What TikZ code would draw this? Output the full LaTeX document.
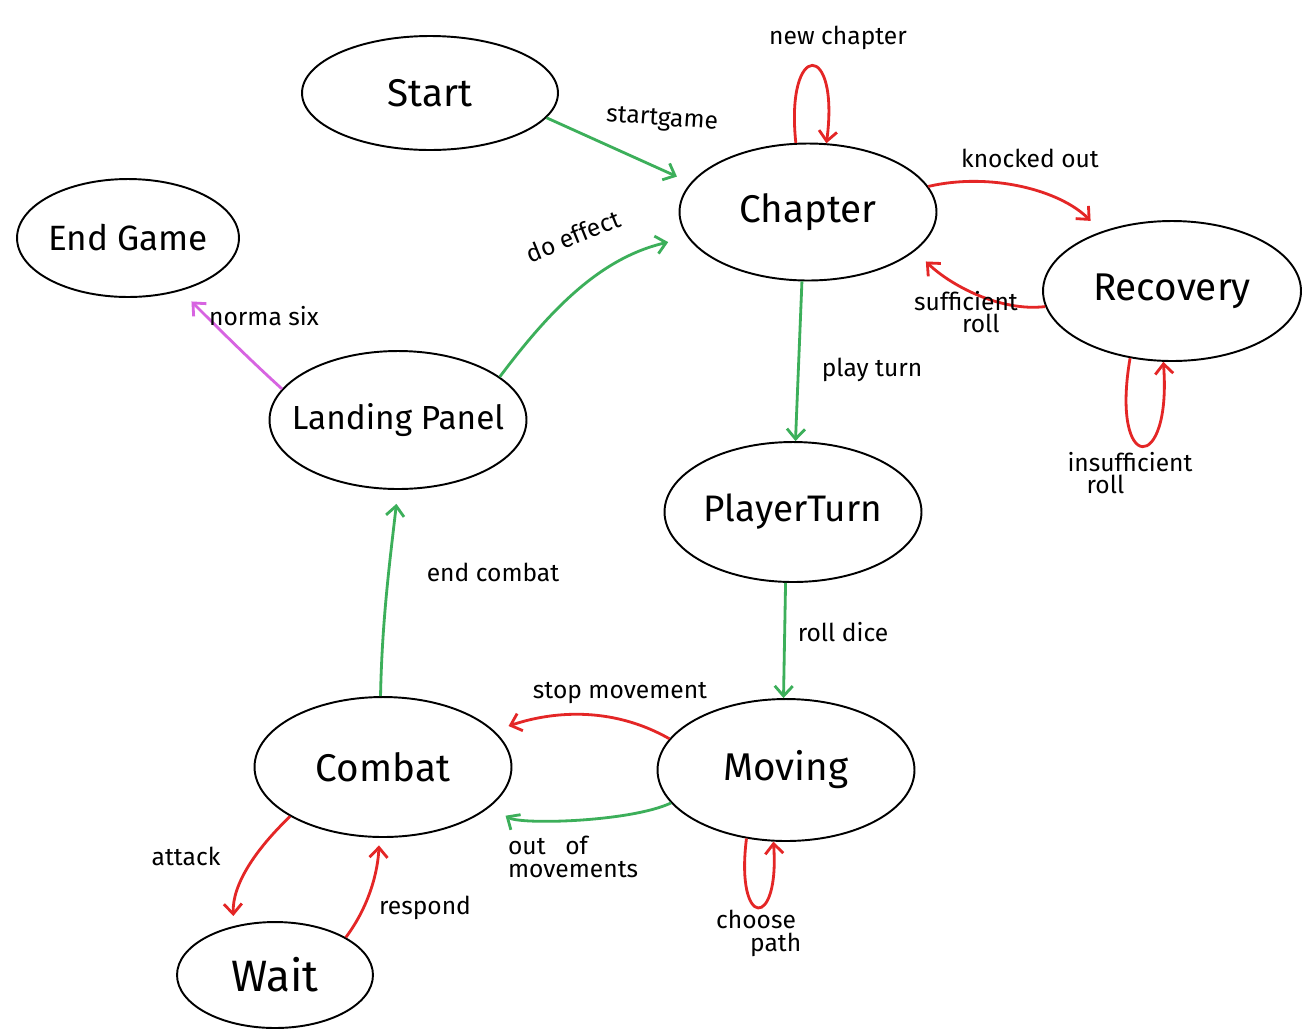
\documentclass[tikz,border=0pt]{standalone}
\usepackage{fontspec}
\setmainfont{Fira Sans}
\usetikzlibrary{shapes.geometric,arrows.meta}
\definecolor{egreen}{RGB}{60,175,90}
\definecolor{ered}{RGB}{228,38,38}
\definecolor{emag}{RGB}{215,100,225}
\begin{document}
\begin{tikzpicture}[x=0.02cm,y=-0.02cm,
  state/.style={ellipse,draw=black,line width=1.1pt,inner xsep=-1cm,inner ysep=-0.3cm,font=\fontsize{22}{26}\selectfont},
  tr/.style={line width=1.6pt,-{Straight Barb[length=2mm,width=3.6mm]}},
  gr/.style={tr,draw=egreen},
  rd/.style={tr,draw=ered},
  mg/.style={tr,draw=emag},
  lbl/.style={font=\fontsize{14}{15}\selectfont,inner sep=1pt,align=center}]
\useasboundingbox[fill=white] (0,0) rectangle (1307,1032);

% states
\node[state,minimum width=5.12cm,minimum height=2.28cm] (start) at (430,93) {Start};
\node[state,minimum width=5.14cm,minimum height=2.74cm] (chapter) at (808,212) {Chapter};
\node[state,minimum width=4.44cm,minimum height=2.36cm,font=\fontsize{20}{24}\selectfont] (endgame) at (128,238) {End Game};
\node[state,minimum width=5.16cm,minimum height=2.80cm] (recovery) at (1172,291) {Recovery};
\node[state,minimum width=5.14cm,minimum height=2.76cm,font=\fontsize{19}{22}\selectfont] (landing) at (398,420) {Landing Panel};
\node[state,minimum width=5.14cm,minimum height=2.80cm,font=\fontsize{21}{24}\selectfont] (playerturn) at (793,512) {PlayerTurn};
\node[state,minimum width=5.14cm,minimum height=2.80cm] (combat) at (383,767) {Combat};
\node[state,minimum width=5.14cm,minimum height=2.84cm] (moving) at (786,770) {Moving};
\node[state,minimum width=3.92cm,minimum height=2.12cm,font=\fontsize{25}{28}\selectfont] (wait) at (275,975) {Wait};

% transitions
\draw[gr,shorten >=0.3cm] (start.-12) -- (chapter.166);
\draw[rd] (chapter.100) .. controls (785,40) and (840,40) .. (chapter.75);
\draw[rd,shorten >=0.3cm] (chapter.12) .. controls (990,172) and (1060,190) .. (recovery.140);
\draw[rd,shorten >=0.3cm] (recovery.187) .. controls (1000,312) and (950,285) .. (chapter.-20);
\draw[gr] (chapter.-95) -- (playerturn.88);
\draw[rd] (recovery.-122) .. controls (1110,475) and (1172,475) .. (recovery.-97);
\draw[gr] (playerturn.-96) -- (moving.92);
\draw[rd,shorten >=0.3cm] (moving.165) .. controls (610,705) and (550,712) .. (combat.18);
\draw[gr,shorten >=0.35cm] (moving.-164) .. controls (630,822) and (520,825) .. (combat.-20);
\draw[rd] (moving.-120) .. controls (735,930) and (780,930) .. (moving.-100);
\draw[gr,shorten >=0.28cm] (combat.92) .. controls (382,620) and (390,560) .. (landing.-90);
\draw[gr,shorten >=0.4cm] (landing.23) .. controls (550,310) and (600,258) .. (chapter.-168);
\draw[mg,shorten >=0.3cm] (landing.165) .. controls (250,360) and (215,325) .. (endgame.-45);
\draw[rd,shorten >=0.2cm] (combat.208) .. controls (255,850) and (232,885) .. (wait.130);
\draw[rd,shorten >=0.15cm] (wait.28) .. controls (370,905) and (378,870) .. (combat.-93);

% labels
\node[lbl,rotate=-4] (lstartgame) at (662,120) {startgame};
\node[lbl] (lnewchapter) at (838,38) {new chapter};
\node[lbl] (lknocked) at (1030,158) {knocked out};
\node[lbl] (lsufficient) at (966,312) {sufficient\\[-2pt]\hspace*{1.2em}roll};
\node[lbl] (lplayturn) at (872,370) {play turn};
\node[lbl] (linsufficient) at (1130,473) {insufficient\\[-2pt]roll\hspace*{2em}};
\node[lbl] (lrolldice) at (843,632) {roll dice};
\node[lbl] (lstop) at (620,693) {stop movement};
\node[lbl,align=left,anchor=west] (lout) at (506,857) {out\hspace{0.8em}of\\[-2pt]movements};
\node[lbl] (lchoose) at (756,933) {choose\\[-2pt]\hspace*{1.6em}path};
\node[lbl] (lendcombat) at (493,572) {end combat};
\node[lbl,rotate=22] (ldoeffect) at (573,236) {do effect};
\node[lbl] (lnorma) at (264,316) {norma six};
\node[lbl] (lattack) at (186,856) {attack};
\node[lbl] (lrespond) at (425,908) {respond};
\end{tikzpicture}
\end{document}
